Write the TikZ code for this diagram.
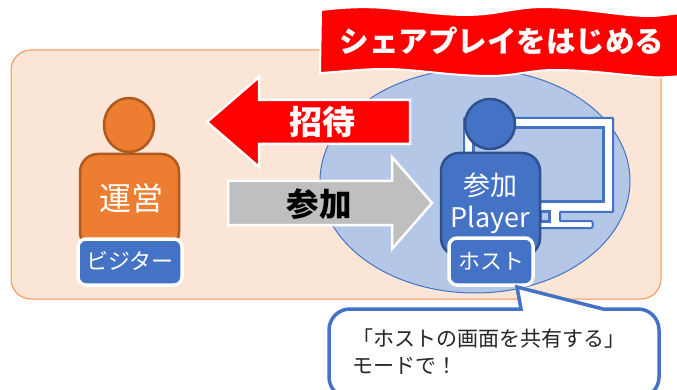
\documentclass[tikz,border=0pt]{standalone}
\usepackage{fontspec}
\setmainfont{Noto Sans CJK JP}
\usetikzlibrary{calc,shapes.geometric}
\definecolor{bgfill}{HTML}{FBE5D6}
\definecolor{bgline}{HTML}{F1924F}
\definecolor{acc}{HTML}{4472C4}
\definecolor{accd}{HTML}{2F528F}
\definecolor{ell}{HTML}{B4C7E7}
\definecolor{org}{HTML}{ED7D31}
\definecolor{orgd}{HTML}{AE5A21}
\definecolor{gr}{HTML}{BFBFBF}
\tikzset{
  x=1pt,y=-1pt,
  txt/.style={inner sep=0pt,align=center},
  wtxt/.style={txt,text=white},
  bodyshape/.style={rounded corners=18pt,line width=2.5pt},
  tag/.style={draw=white,fill=acc,line width=3.5pt,rounded corners=8pt},
  bigarrow/.style={draw=white,line width=2.5pt,miter limit=10},
}
\begin{document}
\begin{tikzpicture}
\useasboundingbox (0,0) rectangle (677,390);
\clip (0,0) rectangle (677,390);
% background
\draw[fill=bgfill,draw=bgline,line width=1pt,rounded corners=20pt] (11,50) rectangle (661,299);
\draw[fill=ell,draw=acc,line width=1pt] (475,181) ellipse [x radius=155,y radius=112];
% banner
\path[fill=red,draw=white,line width=2pt]
  (321,10) .. controls (345,7) and (370,6) .. (395,9)
  .. controls (425,12) and (455,17) .. (485,14)
  .. controls (505,12) and (520,7) .. (545,7)
  .. controls (585,8) and (620,16) .. (650,16)
  .. controls (660,16) and (670,14) .. (682,13)
  -- (682,76)
  .. controls (670,77) and (660,78) .. (650,77)
  .. controls (620,75) and (590,70) .. (555,70)
  .. controls (530,70) and (515,76) .. (490,76)
  .. controls (450,76) and (415,69) .. (385,69)
  .. controls (360,69) and (340,72) .. (320,73) -- cycle;
\node[wtxt,font=\bfseries\fontsize{29.5}{34}\selectfont] (title) at (502,41) {シェアプレイをはじめる};
% red arrow
\path[bigarrow,fill=red] (207,122) -- (259,77) -- (259,100) -- (410,100) -- (410,144) -- (259,144) -- (259,167) -- cycle;
\node[wtxt,font=\bfseries\fontsize{33}{38}\selectfont] (inv) at (322,122) {招待};
% gray arrow
\path[bigarrow,fill=gr] (228,181) -- (392,181) -- (392,157) -- (432,203) -- (392,249) -- (392,225) -- (228,225) -- cycle;
\node[txt,text=black,font=\bfseries\fontsize{32.5}{38}\selectfont] (join) at (319,204) {参加};
% monitor
\path[fill=white,draw=acc,line width=2pt,rounded corners=0.5pt]
  (464,118) -- (613,118) -- (613,212) -- (560,212) -- (560,221) -- (592,221) -- (593,224.5) -- (592,228) -- (500,228) -- (500,212) -- (464,212) -- cycle;
\path[fill=ell,draw=acc,line width=3pt] (473,128) rectangle (603,202);
\draw[fill=ell,draw=acc,line width=3pt] (540,212) rectangle (549,221);
% blue person
\node[circle,draw=accd,fill=acc,line width=2.5pt,minimum size=50pt,inner sep=0pt] (headb) at (490,124) {};
\draw[bodyshape,draw=accd,fill=acc] (441,256) -- (441,153) -- (540,153) -- (540,256) -- cycle;
\node[wtxt,font=\fontsize{27}{34}\selectfont] (pl) at (490,203) {参加\\[-2pt]Player};
\draw[tag] (449,238) rectangle (533,285);
\node[wtxt,font=\fontsize{22}{26}\selectfont] (host) at (491,261) {ホスト};
% orange person
\node[ellipse,draw=orgd,fill=org,line width=2.5pt,minimum width=50pt,minimum height=54pt,inner sep=0pt] (heado) at (129,125) {};
\draw[bodyshape,draw=orgd,fill=org] (80,250) -- (80,154) -- (179,154) -- (179,250) -- cycle;
\node[wtxt,font=\fontsize{32}{36}\selectfont] (op) at (131,198) {運営};
\draw[tag] (78,239) rectangle (182,285);
\node[wtxt,font=\fontsize{22}{26}\selectfont] (vis) at (130,261) {ビジター};
% callout
\draw[fill=white,draw=acc,line width=3.5pt,rounded corners=0pt]
  (517,287) -- (603,309) -- (638,309) arc[start angle=-90,end angle=0,radius=21]
  -- (659,377) arc[start angle=0,end angle=90,radius=21]
  -- (350,398) arc[start angle=90,end angle=180,radius=21]
  -- (329,330) arc[start angle=180,end angle=270,radius=21]
  -- (521,309) -- cycle;
\node[txt,text=black!85,anchor=north west,align=left,font=\fontsize{21}{27}\selectfont] (note) at (352,329) {「ホストの画面を共有する」\\モードで！};
\end{tikzpicture}
\end{document}
